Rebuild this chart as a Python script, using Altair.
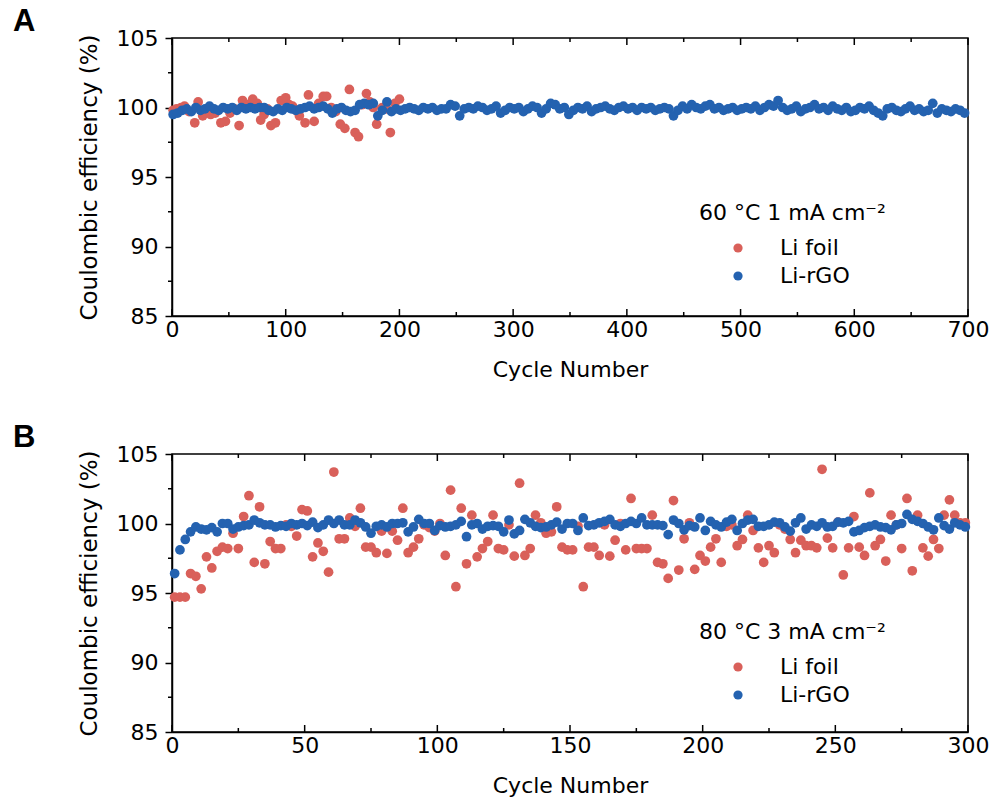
import altair as alt
import pandas as pd

RED = "#D9605A"
BLUE = "#2462B0"
FONT = "DejaVu Sans"
series_names = ["Li foil", "Li-rGO"]

# ---------------- Panel A: 60 °C, 1 mA cm-2 ----------------
a_foil_cycle = [1, 4, 8, 11, 15, 20, 23, 27, 30, 34, 38, 43, 47, 51, 55, 59, 62, 66,
                71, 75, 78, 81, 84, 87, 91, 96, 100, 103, 106, 109, 112, 117, 120, 125,
                129, 133, 136, 140, 144, 148, 152, 156, 161, 164, 167, 171, 174, 177,
                180, 185, 189, 192, 196, 200]
a_foil_ce = [99.8, 99.9, 100.0, 100.1, 99.7, 98.9, 100.4, 99.4, 99.8, 99.5, 99.6, 98.9,
             99.0, 99.6, 99.9, 98.7, 100.5, 100.2, 100.6, 100.3, 99.1, 99.5, 99.9, 98.7,
             98.9, 100.5, 100.7, 100.2, 100.1, 99.8, 99.4, 98.9, 100.9, 99.0, 100.3,
             100.8, 100.8, 100.0, 99.7, 98.8, 98.5, 101.3, 98.2, 97.9, 100.2, 101.0,
             100.4, 100.0, 98.8, 100.0, 99.9, 98.2, 100.3, 100.6]
a_rgo_ce = [99.5, 99.6, 99.8, 99.9, 99.7,
            100.0, 99.8, 99.9, 100.1, 99.9, 99.8, 100.0, 99.9, 100.0, 99.8,
            100.0, 99.9, 100.0, 99.9, 100.0, 100.0, 99.8, 99.7, 99.9, 99.8,
            100.0, 99.9, 99.8, 99.9, 100.0, 100.1, 99.9, 100.0, 100.1, 99.9,
            99.6, 99.9, 100.0, 99.8, 99.7, 99.8, 100.2, 100.3, 100.2, 100.3,
            99.4, 99.8, 100.4, 99.7, 99.9, 99.8, 99.9, 100.0, 99.9, 99.8,
            100.0, 99.9, 100.0, 99.8, 99.9, 99.9, 100.2, 100.1, 99.4, 99.9,
            100.0, 99.9, 100.1, 100.0, 99.8, 99.9, 100.1, 99.6, 99.8, 100.0,
            99.9, 100.0, 99.7, 99.9, 100.1, 100.0, 99.6, 99.9, 100.3, 100.2,
            99.9, 100.0, 99.5, 99.8, 100.0, 99.9, 100.1, 99.7, 99.9, 100.0,
            100.1, 99.9, 99.8, 100.0, 100.1, 99.9, 100.0, 99.8, 100.0, 99.9,
            100.0, 99.8, 99.9, 100.0, 99.9, 99.4, 99.8, 100.1, 99.9, 100.2,
            100.0, 99.9, 100.1, 100.2, 99.9, 100.0, 99.8, 99.9, 100.0, 99.8,
            99.9, 100.0, 99.9, 100.1, 99.8, 100.0, 100.2, 100.1, 100.5, 100.0,
            99.8, 99.9, 100.1, 99.7, 99.9, 100.0, 100.2, 99.9, 100.0, 99.8,
            100.1, 99.9, 99.8, 100.0, 99.7, 99.8, 100.0, 99.9, 100.1, 99.8,
            99.6, 99.4, 99.9, 100.0, 99.8, 99.7, 99.9, 100.1, 99.8, 99.9,
            99.7, 99.8, 100.3, 99.6, 99.9, 99.8, 99.7, 99.9, 99.8, 99.6]
a_rgo_cycle = list(range(1, 4 * len(a_rgo_ce), 4))
a_x_major = [0, 100, 200, 300, 400, 500, 600, 700]
a_x_minor = [50, 150, 250, 350, 450, 550, 650]

# ---------------- Panel B: 80 °C, 3 mA cm-2 ----------------
b_foil_ce = [94.7, 94.7, 94.7, 96.4, 96.2, 95.3, 97.6, 96.8, 98.0, 98.3,
             98.2, 99.3, 98.2, 100.5, 102.0, 97.2, 101.2, 97.1, 98.7, 98.2,
             98.2, 99.9, 99.8, 99.1, 101.0, 100.9, 97.6, 98.6, 98.0, 96.5,
             103.7, 98.9, 98.9, 100.4, 99.8, 101.1, 98.3, 98.3, 97.9,
             99.45, 97.85, 99.45, 98.8, 101.1, 97.9, 98.3, 98.9, 99.9, 99.7,
             99.45, 100.0, 97.7, 102.4, 95.45, 101.1, 97.1, 100.6, 97.6, 98.2,
             98.7, 100.6, 98.2, 98.1, 99.9, 97.65, 102.9, 97.7, 98.2, 100.6,
             100.05, 99.3, 99.4, 101.2, 98.3, 98.1, 98.1, 99.8, 95.45, 98.3,
             98.3, 97.7, 99.9, 97.65, 98.8, 100.0, 98.1, 101.8, 98.2, 98.2,
             98.2, 100.6, 97.2, 97.1, 96.05, 101.65, 96.65, 98.9, 100.05, 96.7,
             97.7, 97.3, 98.3, 98.9, 97.2, 99.8, 99.9, 98.4, 98.85, 100.6,
             99.5, 98.25, 97.2, 98.4, 97.9, 99.9, 99.6, 98.85, 97.9, 98.8,
             98.4, 98.4, 98.25, 103.9, 98.95, 98.25, 100.1, 96.3, 98.25, 100.5,
             98.3, 97.7, 102.2, 98.4, 98.85, 97.3, 100.6, 99.9, 98.2, 101.8,
             96.6, 100.6, 98.25, 97.65, 98.85, 98.2, 100.6, 101.7, 100.6, 100.05,
             100.05]
b_rgo_ce = [96.4, 98.1, 98.85, 99.4, 99.75, 99.6, 99.55, 99.7, 99.4, 100.0,
            100.0, 99.6, 99.75, 99.85, 99.9, 100.25, 100.05, 99.9, 99.9, 99.75,
            99.85, 99.8, 100.0, 99.9, 100.0, 99.85, 100.1, 99.7, 99.9, 100.25,
            100.0, 100.25, 99.9, 99.9, 100.25, 100.05, 99.75, 99.3, 99.8, 99.9,
            99.75, 100.0, 100.0, 100.05, 99.4, 99.75, 100.3, 100.0, 100.0, 99.5,
            99.85, 99.75, 99.8, 99.9, 100.15, 99.05, 99.9, 100.0, 99.6, 99.8,
            99.85, 99.8, 99.4, 100.25, 99.25, 99.5, 100.3, 100.05, 99.8, 99.7,
            99.75, 99.9, 100.1, 99.6, 100.0, 100.0, 99.5, 100.4, 99.85, 99.9,
            100.05, 100.15, 100.3, 99.9, 99.8, 100.0, 100.15, 100.0, 100.4, 99.9,
            99.9, 99.9, 99.85, 99.2, 100.25, 100.0, 99.55, 99.85, 99.75, 100.4,
            99.5, 100.15, 99.9, 99.75, 100.1, 100.3, 99.5, 100.0, 100.25, 100.3,
            99.8, 99.8, 99.9, 100.1, 100.05, 99.75, 99.45, 100.05, 100.4, 99.6,
            99.9, 99.8, 100.05, 99.75, 99.8, 100.1, 100.05, 100.15, 99.4, 99.5,
            99.7, 99.8, 99.9, 99.75, 99.7, 99.55, 99.9, 100.0, 100.65, 100.3,
            100.15, 100.0, 99.75, 99.55, 100.4, 99.85, 99.6, 100.05, 99.9, 99.75]
b_foil_cycle = list(range(1, 2 * len(b_foil_ce), 2))
b_rgo_cycle = list(range(1, 2 * len(b_rgo_ce), 2))
b_x_major = [0, 50, 100, 150, 200, 250, 300]
b_x_minor = [25, 75, 125, 175, 225, 275]

y_major = [85, 90, 95, 100, 105]
y_minor = [87.5, 92.5, 97.5, 102.5]

W, H = 796, 278


def panel(letter, foil_cycle, foil_ce, rgo_cycle, rgo_ce, xmax, xmajor, xminor,
          legend_title, legend_y):
    df = pd.DataFrame({
        "cycle": list(foil_cycle) + list(rgo_cycle),
        "ce": list(foil_ce) + list(rgo_ce),
        "series": ["Li foil"] * len(foil_ce) + ["Li-rGO"] * len(rgo_ce),
    })
    xs = alt.Scale(domain=[0, xmax], nice=False, zero=False, padding=0)
    ys = alt.Scale(domain=[85, 105], nice=False, zero=False, padding=0)
    xaxis = alt.Axis(title="Cycle Number", values=xmajor, ticks=False, labelFlush=False,
                     labelPadding=3, titlePadding=19, format="d")
    yaxis = alt.Axis(title="Coulombic efficiency (%)", values=y_major, labelFlush=False,
                     tickSize=7, labelPadding=7, titlePadding=15, titleFontSize=23,
                     format="d")

    points = alt.Chart(df).mark_circle(size=95, opacity=1).encode(
        x=alt.X("cycle:Q", scale=xs, axis=xaxis),
        y=alt.Y("ce:Q", scale=ys, axis=yaxis),
        color=alt.Color("series:N",
                        scale=alt.Scale(domain=series_names, range=[RED, BLUE]),
                        legend=alt.Legend(title=legend_title, orient="none",
                                          legendX=527, legendY=legend_y,
                                          titleFont=FONT, titleFontSize=22,
                                          titleFontWeight="normal", titleColor="black",
                                          titleLimit=400,
                                          labelFont=FONT, labelFontSize=22,
                                          labelColor="black", symbolType="circle",
                                          symbolSize=85, symbolStrokeWidth=0,
                                          symbolOffset=28, labelOffset=31,
                                          rowPadding=6, titlePadding=12, padding=0)),
    )

    major_df = pd.DataFrame({"cycle": xmajor})
    minor_df = pd.DataFrame({"cycle": xminor})

    def xticks(d, y0, y1):
        return alt.Chart(d).mark_rule(color="black", strokeWidth=1.5).encode(
            x=alt.X("cycle:Q", scale=xs, axis=xaxis),
            y=alt.value(y0), y2=alt.value(y1))

    ymin_df = pd.DataFrame({"ce": y_minor})
    yticks = alt.Chart(ymin_df).mark_rule(color="black", strokeWidth=1.5).encode(
        y=alt.Y("ce:Q", scale=ys, axis=yaxis),
        x=alt.value(-4), x2=alt.value(0))

    return alt.layer(
        points,
        xticks(major_df, H, H - 7), xticks(minor_df, H, H - 4),
        xticks(major_df, 0, 7), xticks(minor_df, 0, 4),
        yticks,
    ).properties(
        width=W, height=H,
        title=alt.TitleParams(text=letter, anchor="start", frame="group", dx=-159,
                              fontSize=31, font="Liberation Sans", fontWeight="bold",
                              color="black", offset=-11),
    )


pa = panel("A", a_foil_cycle, a_foil_ce, a_rgo_cycle, a_rgo_ce, 700,
           a_x_major, a_x_minor, "60 °C 1 mA cm⁻²", 165)
pb = panel("B", b_foil_cycle, b_foil_ce, b_rgo_cycle, b_rgo_ce, 300,
           b_x_major, b_x_minor, "80 °C 3 mA cm⁻²", 168)

chart = alt.vconcat(pa, pb, spacing=40).resolve_scale(
    color="independent").resolve_legend(color="independent").properties(
    padding={"left": 12, "top": 5, "right": 0, "bottom": 0}
).configure_view(stroke="black", strokeWidth=1.5).configure_axis(
    domainColor="black", domainWidth=1.5, tickColor="black", tickWidth=1.5,
    labelFont=FONT, labelFontSize=22, labelColor="black",
    titleFont=FONT, titleFontSize=22, titleFontWeight="normal", titleColor="black",
    grid=False)

chart.save("out.html", embed_options={"renderer": "svg", "actions": False})
